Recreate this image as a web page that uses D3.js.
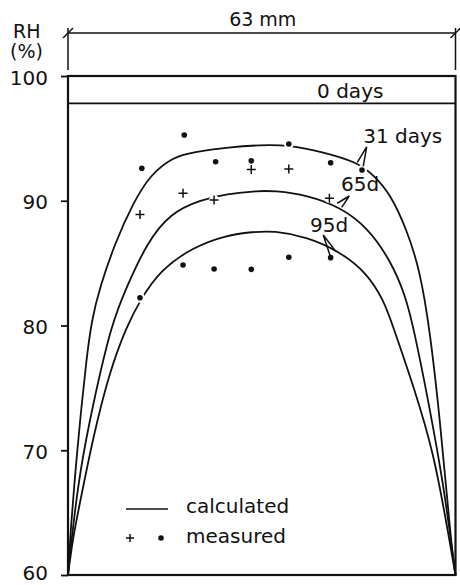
<!DOCTYPE html>
<html>
<head>
<meta charset="utf-8">
<script src="https://cdn.jsdelivr.net/npm/d3@7"></script>
<style>
    body { margin: 0; background: #fff; }
    svg { display: block; }
    text { font-family: "DejaVu Sans", sans-serif; fill: #111; }
    .frame { fill: none; stroke: #111; stroke-width: 2.2; }
    .curve { fill: none; stroke: #111; stroke-width: 1.8; }
    .pointer { fill: none; stroke: #111; stroke-width: 1.5; }
</style>
</head>
<body>
<div id="chart"></div>
<script>

// values: x in mm across the 63 mm section, y in RH %
var yTicks = [60, 70, 80, 90, 100];

var calc0 = [[0, 97.8], [63, 97.8]];

var calc31 = [[0, 60], [0.45, 63.8], [1.2, 68.3], [2.0, 72.6], [3.0, 77.3], [3.85, 80.44], [5.2, 83.1],
    [7.64, 86.6], [10.57, 89.8], [13.33, 92.06], [17.07, 93.5],
    [20.3, 93.9], [26.3, 94.3], [31.2, 94.47], [35.9, 94.47], [41.5, 93.9], [46.98, 93.1],
    [49.6, 92.1], [52.35, 90.6], [55.1, 87.66], [57.2, 84.45], [58.85, 79.6], [60.48, 72.4],
    [61.78, 65.45], [62.43, 62.0], [63, 60]];

var calc65 = [[0, 60], [0.6, 63], [1.95, 68.4], [4.1, 73.8], [7.1, 80.2], [9.55, 83.1], [12.8, 86.6],
    [16.6, 89.0], [21.5, 90.06], [25.8, 90.54], [31.0, 90.8], [33.4, 90.8], [38.9, 90.46],
    [44.3, 89.47], [48.6, 87.9], [52.4, 85.25], [54.8, 82.5], [56.2, 79.8], [58.65, 73.8],
    [61.1, 67.1], [62.45, 62], [63, 60]];

var calc95 = [[0, 60], [0.8, 63], [1.95, 65.8], [4.1, 71.1], [6.8, 76.4], [9.6, 80.0], [11.7, 82.0],
    [15.0, 84.45], [20.4, 86.3], [25.8, 87.25], [30.0, 87.5], [33.4, 87.6], [38.9, 87.1],
    [44.3, 85.9], [48.6, 84.2], [51.3, 82.05], [52.8, 80.0], [56.2, 75.1], [59.5, 69.75],
    [61.9, 63.1], [63, 60]];

var meas31 = [[12.0, 92.6], [18.9, 95.27], [24.0, 93.13], [29.8, 93.2], [35.9, 94.55], [42.7, 93.05], [47.8, 92.47]];
var meas65 = [[11.7, 88.9], [18.7, 90.6], [23.75, 90.06], [29.8, 92.5], [35.9, 92.55], [42.5, 90.2]];
var meas95 = [[11.7, 82.23], [18.7, 84.85], [23.75, 84.53], [29.8, 84.5], [35.9, 85.47], [42.7, 85.44]];

/**
 * Constructor for the RH profile chart
 */
function ProfileChart(){
    var self = this;
    self.init();
};

/**
 * Sets up the svg and the scales
 */
ProfileChart.prototype.init = function(){
    var self = this;

    self.width = 460;
    self.height = 585;
    self.margin = {top: 76, right: 4.5, bottom: 10, left: 68};

    self.svg = d3.select("#chart").append("svg")
        .attr("width", self.width)
        .attr("height", self.height);

    self.x = d3.scaleLinear().domain([0, 63])
        .range([self.margin.left, self.width - self.margin.right]);
    self.y = d3.scaleLinear().domain([60, 100])
        .range([self.height - self.margin.bottom, self.margin.top]);
};

/**
 * Draws axis, curves, measured points and the labels
 */
ProfileChart.prototype.update = function(){
    var self = this;
    var x = self.x, y = self.y;
    var svg = self.svg;

    //left axis with ticks pointing outwards
    var yAxis = d3.axisLeft(y).tickValues(yTicks).tickSize(7).tickPadding(13);
    var ax = svg.append("g")
        .attr("transform", "translate(" + x(0) + ",0)")
        .call(yAxis);
    ax.select(".domain").remove();
    ax.selectAll(".tick line").attr("stroke", "#111").attr("stroke-width", 1.8);
    //bottom label sits lower on the page edge, so pull it up a touch
    ax.selectAll(".tick text")
        .attr("font-size", 20)
        .attr("font-family", null)
        .attr("dy", function(d){ return d == 60 ? "0.2em" : "0.4em"; })
        .attr("fill", "#111");

    //frame round the plot
    svg.append("rect")
        .attr("class", "frame")
        .attr("x", x(0))
        .attr("y", y(100))
        .attr("width", x(63) - x(0))
        .attr("height", y(60) - y(100));

    //dimension line on top: 63 mm
    var dimY = 33;
    svg.append("line").attr("class", "pointer")
        .attr("x1", x(0)).attr("x2", x(63))
        .attr("y1", dimY).attr("y2", dimY);
    [0, 63].forEach(function(d){
        svg.append("line").attr("class", "pointer")
            .attr("x1", x(d)).attr("x2", x(d))
            .attr("y1", dimY - 5).attr("y2", y(100) - 6);
        svg.append("line").attr("class", "pointer")
            .attr("x1", x(d) - 5).attr("x2", x(d) + 5)
            .attr("y1", dimY + 5).attr("y2", dimY - 5);
    });
    svg.append("text")
        .attr("x", (x(0) + x(63)) / 2 + 1)
        .attr("y", 26)
        .attr("text-anchor", "middle")
        .attr("font-size", 19)
        .text("63 mm");

    svg.append("text").attr("x", 13).attr("y", 38).attr("font-size", 19).text("RH");
    svg.append("text").attr("x", 10).attr("y", 58).attr("font-size", 19).text("(%)");

    //calculated curves
    var line = d3.line()
        .x(function(d){ return x(d[0]); })
        .y(function(d){ return y(d[1]); })
        .curve(d3.curveBasis);

    svg.selectAll(".curve")
        .data([calc0, calc31, calc65, calc95])
        .enter().append("path")
        .attr("class", "curve")
        .attr("d", line);

    //measured points, white halo first so the curves break round them
    var dots = meas31.concat(meas95);
    var all = dots.concat(meas65);
    svg.append("g").selectAll("circle")
        .data(all)
        .enter().append("circle")
        .attr("cx", function(d){ return x(d[0]); })
        .attr("cy", function(d){ return y(d[1]); })
        .attr("r", 5)
        .attr("fill", "#fff");

    svg.append("g").selectAll("circle")
        .data(dots)
        .enter().append("circle")
        .attr("cx", function(d){ return x(d[0]); })
        .attr("cy", function(d){ return y(d[1]); })
        .attr("r", 2.8)
        .attr("fill", "#111");

    svg.append("g").selectAll("path")
        .data(meas65)
        .enter().append("path")
        .attr("class", "pointer")
        .attr("stroke-width", 2)
        .attr("d", function(d){
            var cx = x(d[0]), cy = y(d[1]);
            return "M" + (cx - 4.5) + "," + cy + "H" + (cx + 4.5) + "M" + cx + "," + (cy - 4.5) + "V" + (cy + 4.5);
        });

    //curve labels with their pointers
    var labels = [
        {text: "0 days", at: [40.5, 98.2], tip: null},
        {text: "31 days", at: [48.0, 94.63], tip: [[47.03, 93.07], [48.56, 94.31], [48.0, 92.75]]},
        {text: "65d", at: [44.4, 90.82], tip: [[43.78, 89.8], [45.73, 90.38], [44.5, 89.47]]},
        {text: "95d", at: [39.35, 87.5], tip: [[43.57, 85.92], [41.5, 87.25], [42.7, 85.47]]}
    ];
    var straight = d3.line()
        .x(function(d){ return x(d[0]); })
        .y(function(d){ return y(d[1]); });

    labels.forEach(function(l){
        svg.append("text")
            .attr("x", x(l.at[0]))
            .attr("y", y(l.at[1]))
            .attr("font-size", 20)
            .text(l.text);
        if (l.tip){
            svg.append("path").attr("class", "pointer").attr("d", straight(l.tip));
        }
    });

    //legend
    var lg = svg.append("g").attr("transform", "translate(126,509)");
    lg.append("line").attr("class", "pointer")
        .attr("x1", 0).attr("x2", 42).attr("y1", 0).attr("y2", 0);
    lg.append("text").attr("x", 60).attr("y", 4).attr("font-size", 20).text("calculated");
    lg.append("path").attr("class", "pointer").attr("stroke-width", 2)
        .attr("d", "M0,29H8M4,25V33");
    lg.append("circle").attr("cx", 35).attr("cy", 29).attr("r", 2.8).attr("fill", "#111");
    lg.append("text").attr("x", 60).attr("y", 34).attr("font-size", 20).text("measured");
};

var chart = new ProfileChart();
chart.update();

</script>
</body>
</html>
